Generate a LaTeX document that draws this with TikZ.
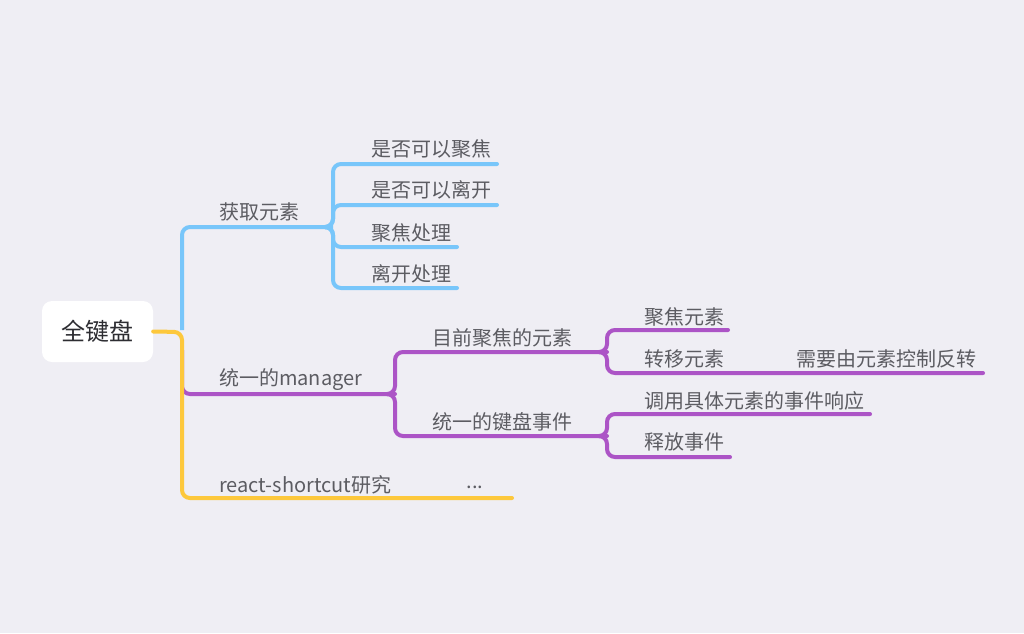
\documentclass[tikz,border=0pt]{standalone}
\usepackage{fontspec}
\setmainfont{Noto Sans CJK SC}
\definecolor{bg}{RGB}{239,238,244}
\definecolor{cblue}{RGB}{120,198,250}
\definecolor{cpurple}{RGB}{172,84,198}
\definecolor{cyellow}{RGB}{253,200,60}
\definecolor{txt}{RGB}{92,92,98}
\definecolor{roottxt}{RGB}{45,45,50}
\begin{document}
\begin{tikzpicture}[x=1pt,y=-1pt,
  lbl/.style={anchor=west,inner sep=0pt,text=txt,font=\fontsize{20}{24}\selectfont},
  conn/.style={line width=4pt,rounded corners=8pt,line cap=round},
  bl/.style={conn,draw=cblue},
  pl/.style={conn,draw=cpurple},
  yl/.style={conn,draw=cyellow}]
\fill[bg] (0,0) rectangle (1024,633);
\useasboundingbox (0,0) rectangle (1024,633);
% root
\node[fill=white,rounded corners=10pt,minimum width=111pt,minimum height=61pt,inner sep=0pt,
  text=roottxt,font=\fontsize{24}{28}\selectfont] (root) at (97.5,331.5) {全键盘};
% labels
\node[lbl] (a) at (219,212) {获取元素};
\node[lbl] (a1) at (371,149) {是否可以聚焦};
\node[lbl] (a2) at (371,190) {是否可以离开};
\node[lbl] (a3) at (371,233) {聚焦处理};
\node[lbl] (a4) at (371,274) {离开处理};
\node[lbl] (b) at (219,380) {统一的manager};
\node[lbl] (b1) at (432,338) {目前聚焦的元素};
\node[lbl] (b2) at (432,422) {统一的键盘事件};
\node[lbl] (b11) at (644,317) {聚焦元素};
\node[lbl] (b12) at (644,359) {转移元素};
\node[lbl] (b121) at (796,359) {需要由元素控制反转};
\node[lbl] (b21) at (644,401) {调用具体元素的事件响应};
\node[lbl] (b22) at (644,442) {释放事件};
\node[lbl] (c) at (219,485) {react-shortcut研究};
\node[lbl,anchor=center] (c1) at (475,487) {...};
% coordinates
\coordinate (j0) at (182,332);
\coordinate (jbl) at (182,330);
\coordinate (jpu) at (182,350);
\coordinate (ja) at (333,227);
\coordinate (jb) at (395,394);
\coordinate (jb1) at (607,352);
\coordinate (jb2) at (607,436);
\coordinate (ea1) at (497,164);
\coordinate (ea2) at (497,205);
\coordinate (ea3) at (457,247);
\coordinate (ea4) at (457,288);
\coordinate (eb11) at (728,330);
\coordinate (eb121) at (983,373);
\coordinate (eb21) at (870,414);
\coordinate (eb22) at (730,457);
\coordinate (ec1) at (512,498);
% blue branch
\draw[bl,line cap=butt] (jbl) |- (ja);
\draw[bl] ([xshift=-7pt]ja) -- (ja) |- (ea1);
\draw[bl] ([xshift=-7pt]ja) -- (ja) |- (ea2);
\draw[bl] ([xshift=-7pt]ja) -- (ja) |- (ea3);
\draw[bl] ([xshift=-7pt]ja) -- (ja) |- (ea4);
% purple branch
\draw[pl] (jpu) |- (jb);
\draw[pl] ([xshift=-7pt]jb) -- (jb) |- (jb1);
\draw[pl] ([xshift=-7pt]jb) -- (jb) |- (jb2);
\draw[pl] ([xshift=-7pt]jb1) -- (jb1) |- (eb11);
\draw[pl] ([xshift=-7pt]jb1) -- (jb1) |- (eb121);
\draw[pl] ([xshift=-7pt]jb2) -- (jb2) |- (eb21);
\draw[pl] ([xshift=-7pt]jb2) -- (jb2) |- (eb22);
% yellow branch
\draw[yl] (root.east) -- (j0) |- (ec1);
\end{tikzpicture}
\end{document}
